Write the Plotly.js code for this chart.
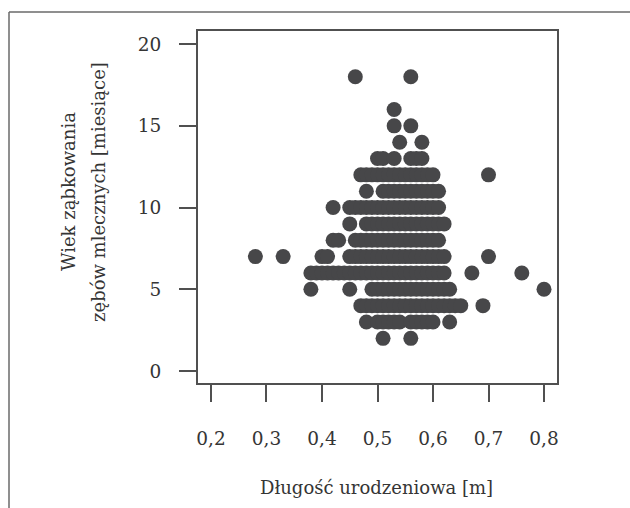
<!DOCTYPE html>
<html>
<head>
<meta charset="utf-8">
<script src="https://cdn.plot.ly/plotly-3.0.1.min.js"></script>
<style>
  html, body { margin: 0; padding: 0; background: #ffffff; }
  #chart { width: 630px; height: 508px; }
</style>
</head>
<body>
<div id="chart"></div>
<script>
// Wiek ząbkowania (months) – one row per value
const months = [2, 3, 4, 5, 6, 7, 8, 9, 10, 11, 12, 13, 14, 15, 16, 18];

// Długość urodzeniowa [m], one list per month row
const len2  = [0.51, 0.56];
const len3  = [0.48, 0.50, 0.51, 0.52, 0.53, 0.54, 0.56, 0.57, 0.58, 0.59, 0.60, 0.63];
const len4  = [0.47, 0.48, 0.49, 0.50, 0.51, 0.52, 0.53, 0.54, 0.55, 0.56, 0.57, 0.58, 0.59, 0.60, 0.61, 0.62, 0.63, 0.64, 0.65, 0.69];
const len5  = [0.38, 0.45, 0.49, 0.50, 0.51, 0.52, 0.53, 0.54, 0.55, 0.56, 0.57, 0.58, 0.59, 0.60, 0.61, 0.62, 0.63, 0.80];
const len6  = [0.38, 0.39, 0.40, 0.41, 0.42, 0.43, 0.44, 0.45, 0.46, 0.47, 0.48, 0.49, 0.50, 0.51, 0.52, 0.53, 0.54, 0.55, 0.56, 0.57, 0.58, 0.59, 0.60, 0.61, 0.62, 0.67, 0.76];
const len7  = [0.28, 0.33, 0.40, 0.41, 0.45, 0.46, 0.47, 0.48, 0.49, 0.50, 0.51, 0.52, 0.53, 0.54, 0.55, 0.56, 0.57, 0.58, 0.59, 0.60, 0.61, 0.62, 0.70];
const len8  = [0.42, 0.43, 0.46, 0.47, 0.48, 0.49, 0.50, 0.51, 0.52, 0.53, 0.54, 0.55, 0.56, 0.57, 0.58, 0.59, 0.60, 0.61];
const len9  = [0.45, 0.48, 0.49, 0.50, 0.51, 0.52, 0.53, 0.54, 0.55, 0.56, 0.57, 0.58, 0.59, 0.60, 0.61, 0.62];
const len10 = [0.42, 0.45, 0.46, 0.47, 0.48, 0.49, 0.50, 0.51, 0.52, 0.53, 0.54, 0.55, 0.56, 0.57, 0.58, 0.59, 0.60, 0.61];
const len11 = [0.48, 0.51, 0.52, 0.53, 0.54, 0.55, 0.56, 0.57, 0.58, 0.59, 0.60, 0.61];
const len12 = [0.47, 0.48, 0.49, 0.50, 0.51, 0.52, 0.53, 0.54, 0.55, 0.56, 0.57, 0.58, 0.59, 0.60, 0.70];
const len13 = [0.50, 0.51, 0.53, 0.56, 0.57, 0.58];
const len14 = [0.54, 0.58];
const len15 = [0.53, 0.56];
const len16 = [0.53];
const len18 = [0.46, 0.56];

const lengthRows = [len2, len3, len4, len5, len6, len7, len8, len9, len10, len11, len12, len13, len14, len15, len16, len18];

const xTickVals = [0.2, 0.3, 0.4, 0.5, 0.6, 0.7, 0.8];
const xTickText = ['0,2', '0,3', '0,4', '0,5', '0,6', '0,7', '0,8'];
const yTickVals = [0, 5, 10, 15, 20];
const yTickText = ['0', '5', '10', '15', '20'];

const xTitle = 'Długość urodzeniowa [m]';
const yTitle1 = 'Wiek ząbkowania';
const yTitle2 = 'zębów mlecznych [miesiące]';

const xs = [], ys = [];
lengthRows.forEach((row, i) => {
  row.forEach(v => { xs.push(v); ys.push(months[i]); });
});

const FONT = '"DejaVu Serif", "Liberation Serif", serif';
const TXT = '#353535';
const AX = '#505050';

const trace = {
  type: 'scatter',
  mode: 'markers',
  x: xs,
  y: ys,
  marker: { color: '#474749', size: 15, line: { width: 0 } },
  hoverinfo: 'x+y'
};

// plot area: x 198..557, y 31..383
const L = 198, R = 557, T = 31, B = 383;
const W = 630, H = 508;
const pw = R - L, ph = B - T;
const px = p => (p - L) / pw;
const py = p => (B - p) / ph;

const layout = {
  width: W, height: H, autosize: false,
  margin: { l: L, r: W - R, t: T, b: H - B, pad: 0 },
  paper_bgcolor: '#ffffff',
  plot_bgcolor: '#ffffff',
  showlegend: false,
  font: { family: FONT, color: TXT, size: 18 },
  xaxis: {
    range: [0.1766, 0.8234],
    tickvals: xTickVals, ticktext: xTickText,
    ticks: 'outside', ticklen: 17, tickwidth: 2, tickcolor: AX,
    showline: true, mirror: true, linecolor: AX, linewidth: 2,
    showgrid: false, zeroline: false,
    ticklabelstandoff: 21,
    tickfont: { family: FONT, size: 18.5, color: TXT },
    fixedrange: true
  },
  yaxis: {
    range: [-0.73, 20.8],
    tickvals: yTickVals, ticktext: yTickText,
    ticks: 'outside', ticklen: 17, tickwidth: 2, tickcolor: AX,
    showline: true, mirror: true, linecolor: AX, linewidth: 2,
    showgrid: false, zeroline: false,
    ticklabelstandoff: 14,
    tickfont: { family: FONT, size: 18.5, color: TXT },
    fixedrange: true
  },
  annotations: [
    { text: xTitle, xref: 'paper', yref: 'paper', x: px(376), y: py(487),
      xanchor: 'center', yanchor: 'middle', showarrow: false,
      font: { family: FONT, size: 18, color: TXT } },
    { text: yTitle1, xref: 'paper', yref: 'paper', x: px(68), y: py(192),
      xanchor: 'center', yanchor: 'middle', textangle: -90, showarrow: false,
      font: { family: FONT, size: 18, color: TXT } },
    { text: yTitle2, xref: 'paper', yref: 'paper', x: px(98), y: py(192),
      xanchor: 'center', yanchor: 'middle', textangle: -90, showarrow: false,
      font: { family: FONT, size: 18, color: TXT } }
  ],
  shapes: [
    { type: 'line', xref: 'paper', yref: 'paper', x0: px(9), x1: px(640), y0: py(12), y1: py(12),
      line: { color: '#6a6a6a', width: 1.5 } },
    { type: 'line', xref: 'paper', yref: 'paper', x0: px(9), x1: px(9), y0: py(12), y1: py(520),
      line: { color: '#6a6a6a', width: 1.5 } }
  ]
};

Plotly.newPlot('chart', [trace], layout, { displayModeBar: false, staticPlot: true });
</script>
</body>
</html>
